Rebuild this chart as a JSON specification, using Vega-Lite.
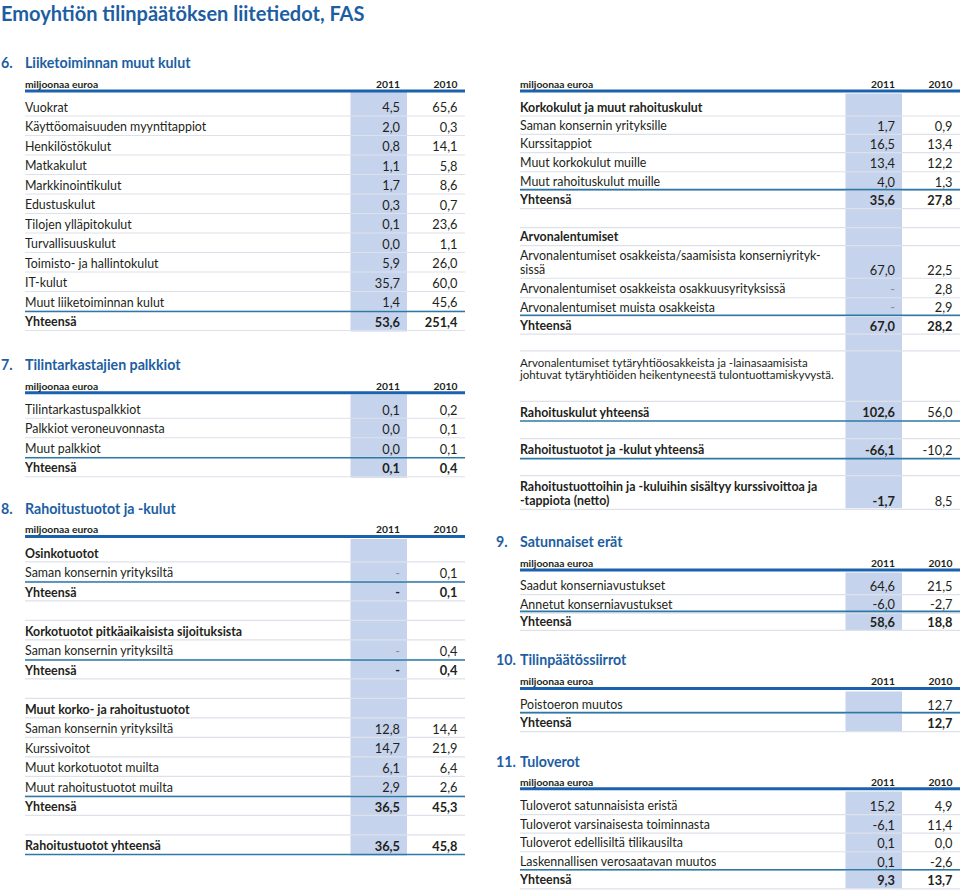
{
  "$schema": "https://vega.github.io/schema/vega-lite/v6.json",
  "padding": 0,
  "background": "white",
  "spacing": 28,
  "data": {"values": [
    {"p":"L","kind":"title","line":-4.79,"label":"Emoyhtiön tilinpäätöksen liitetiedot, FAS"},
    {"p":"L","kind":"heading","line":-2.29,"num":"6.","label":"Liiketoiminnan muut kulut"},
    {"p":"L","kind":"header","line":-1.19,"label":"miljoonaa euroa","h1":"2011","h2":"2010"},
    {"p":"L","kind":"band","line":-0.79,"line2":11.49},
    {"p":"L","kind":"item","line":0,"label":"Vuokrat","v2011":4.5,"v2010":65.6},
    {"p":"L","kind":"item","line":1,"label":"Käyttöomaisuuden myyntitappiot","v2011":2.0,"v2010":0.3},
    {"p":"L","kind":"item","line":2,"label":"Henkilöstökulut","v2011":0.8,"v2010":14.1},
    {"p":"L","kind":"item","line":3,"label":"Matkakulut","v2011":1.1,"v2010":5.8},
    {"p":"L","kind":"item","line":4,"label":"Markkinointikulut","v2011":1.7,"v2010":8.6},
    {"p":"L","kind":"item","line":5,"label":"Edustuskulut","v2011":0.3,"v2010":0.7},
    {"p":"L","kind":"item","line":6,"label":"Tilojen ylläpitokulut","v2011":0.1,"v2010":23.6},
    {"p":"L","kind":"item","line":7,"label":"Turvallisuuskulut","v2011":0.0,"v2010":1.1},
    {"p":"L","kind":"item","line":8,"label":"Toimisto- ja hallintokulut","v2011":5.9,"v2010":26.0},
    {"p":"L","kind":"item","line":9,"label":"IT-kulut","v2011":35.7,"v2010":60.0},
    {"p":"L","kind":"item","line":10,"label":"Muut liiketoiminnan kulut","v2011":1.4,"v2010":45.6},
    {"p":"L","kind":"total","line":11,"label":"Yhteensä","v2011":53.6,"v2010":251.4},

    {"p":"L","kind":"heading","line":13.21,"num":"7.","label":"Tilintarkastajien palkkiot"},
    {"p":"L","kind":"header","line":14.28,"label":"miljoonaa euroa","h1":"2011","h2":"2010"},
    {"p":"L","kind":"band","line":14.72,"line2":18.99},
    {"p":"L","kind":"item","line":15.5,"label":"Tilintarkastuspalkkiot","v2011":0.1,"v2010":0.2},
    {"p":"L","kind":"item","line":16.5,"label":"Palkkiot veroneuvonnasta","v2011":0.0,"v2010":0.1},
    {"p":"L","kind":"item","line":17.5,"label":"Muut palkkiot","v2011":0.0,"v2010":0.1},
    {"p":"L","kind":"total","line":18.5,"label":"Yhteensä","v2011":0.1,"v2010":0.4},

    {"p":"L","kind":"heading","line":20.59,"num":"8.","label":"Rahoitustuotot ja -kulut"},
    {"p":"L","kind":"header","line":21.65,"label":"miljoonaa euroa","h1":"2011","h2":"2010"},
    {"p":"L","kind":"band","line":22.13,"line2":38.36},
    {"p":"L","kind":"subhead","line":22.87,"label":"Osinkotuotot"},
    {"p":"L","kind":"item","line":23.87,"label":"Saman konsernin yrityksiltä","v2011":null,"v2010":0.1},
    {"p":"L","kind":"total","line":24.87,"label":"Yhteensä","v2011":null,"v2010":0.1},
    {"p":"L","kind":"blank","line":25.87},
    {"p":"L","kind":"subhead","line":26.87,"label":"Korkotuotot pitkäaikaisista sijoituksista"},
    {"p":"L","kind":"item","line":27.87,"label":"Saman konsernin yrityksiltä","v2011":null,"v2010":0.4},
    {"p":"L","kind":"total","line":28.87,"label":"Yhteensä","v2011":null,"v2010":0.4},
    {"p":"L","kind":"blank","line":29.87},
    {"p":"L","kind":"subhead","line":30.87,"label":"Muut korko- ja rahoitustuotot"},
    {"p":"L","kind":"item","line":31.87,"label":"Saman konsernin yrityksiltä","v2011":12.8,"v2010":14.4},
    {"p":"L","kind":"item","line":32.87,"label":"Kurssivoitot","v2011":14.7,"v2010":21.9},
    {"p":"L","kind":"item","line":33.87,"label":"Muut korkotuotot muilta","v2011":6.1,"v2010":6.4},
    {"p":"L","kind":"item","line":34.87,"label":"Muut rahoitustuotot muilta","v2011":2.9,"v2010":2.6},
    {"p":"L","kind":"total","line":35.87,"label":"Yhteensä","v2011":36.5,"v2010":45.3},
    {"p":"L","kind":"blank","line":36.87},
    {"p":"L","kind":"grandtotal","line":37.87,"label":"Rahoitustuotot yhteensä","v2011":36.5,"v2010":45.8},

    {"p":"R","kind":"header","line":-1.2,"label":"miljoonaa euroa","h1":"2011","h2":"2010"},
    {"p":"R","kind":"band","line":-0.72,"line2":20.55},
    {"p":"R","kind":"subhead","line":0,"label":"Korkokulut ja muut rahoituskulut"},
    {"p":"R","kind":"item","line":0.94,"label":"Saman konsernin yrityksille","v2011":1.7,"v2010":0.9},
    {"p":"R","kind":"item","line":1.88,"label":"Kurssitappiot","v2011":16.5,"v2010":13.4},
    {"p":"R","kind":"item","line":2.86,"label":"Muut korkokulut muille","v2011":13.4,"v2010":12.2},
    {"p":"R","kind":"item","line":3.81,"label":"Muut rahoituskulut muille","v2011":4.0,"v2010":1.3},
    {"p":"R","kind":"total","line":4.75,"label":"Yhteensä","v2011":35.6,"v2010":27.8},
    {"p":"R","kind":"blank","line":5.72},
    {"p":"R","kind":"subhead","line":6.65,"label":"Arvonalentumiset"},
    {"p":"R","kind":"item","line":8.32,"label":["Arvonalentumiset osakkeista/saamisista konserniyrityk-","sissä"],"v2011":67.0,"v2010":22.5},
    {"p":"R","kind":"item","line":9.32,"label":"Arvonalentumiset osakkeista osakkuusyrityksissä","v2011":null,"v2010":2.8},
    {"p":"R","kind":"item","line":10.26,"label":"Arvonalentumiset muista osakkeista","v2011":null,"v2010":2.9},
    {"p":"R","kind":"total","line":11.19,"label":"Yhteensä","v2011":67.0,"v2010":28.2},
    {"p":"R","kind":"blank","line":12.05},
    {"p":"R","kind":"note","line":13.69,"label":["Arvonalentumiset tytäryhtiöosakkeista ja -lainasaamisista","johtuvat tytäryhtiöiden heikentyneestä tulontuottamiskyvystä."]},
    {"p":"R","kind":"blank","line":14.63},
    {"p":"R","kind":"summary","line":15.64,"label":"Rahoituskulut yhteensä","v2011":102.6,"v2010":56.0},
    {"p":"R","kind":"blank","line":16.54},
    {"p":"R","kind":"summary","line":17.57,"label":"Rahoitustuotot ja -kulut yhteensä","v2011":-66.1,"v2010":-10.2},
    {"p":"R","kind":"blank","line":18.44},
    {"p":"R","kind":"summarynote","line":20.17,"label":["Rahoitustuottoihin ja -kuluihin sisältyy kurssivoittoa ja","-tappiota (netto)"],"v2011":-1.7,"v2010":8.5},

    {"p":"R","kind":"heading","line":22.27,"num":"9.","label":"Satunnaiset erät"},
    {"p":"R","kind":"header","line":23.37,"label":"miljoonaa euroa","h1":"2011","h2":"2010"},
    {"p":"R","kind":"band","line":23.85,"line2":26.85},
    {"p":"R","kind":"item","line":24.55,"label":"Saadut konserniavustukset","v2011":64.6,"v2010":21.5},
    {"p":"R","kind":"item","line":25.49,"label":"Annetut konserniavustukset","v2011":-6.0,"v2010":-2.7},
    {"p":"R","kind":"total","line":26.38,"label":"Yhteensä","v2011":58.6,"v2010":18.8},

    {"p":"R","kind":"heading","line":28.33,"num":"10.","label":"Tilinpäätössiirrot"},
    {"p":"R","kind":"header","line":29.45,"label":"miljoonaa euroa","h1":"2011","h2":"2010"},
    {"p":"R","kind":"band","line":29.95,"line2":32.01},
    {"p":"R","kind":"item","line":30.63,"label":"Poistoeron muutos","v2010":12.7},
    {"p":"R","kind":"total","line":31.57,"label":"Yhteensä","v2010":12.7},

    {"p":"R","kind":"heading","line":33.55,"num":"11.","label":"Tuloverot"},
    {"p":"R","kind":"header","line":34.59,"label":"miljoonaa euroa","h1":"2011","h2":"2010"},
    {"p":"R","kind":"band","line":35.08,"line2":40.05},
    {"p":"R","kind":"item","line":35.83,"label":"Tuloverot satunnaisista eristä","v2011":15.2,"v2010":4.9},
    {"p":"R","kind":"item","line":36.78,"label":"Tuloverot varsinaisesta toiminnasta","v2011":-6.1,"v2010":11.4},
    {"p":"R","kind":"item","line":37.73,"label":"Tuloverot edellisiltä tilikausilta","v2011":0.1,"v2010":0.0},
    {"p":"R","kind":"item","line":38.69,"label":"Laskennallisen verosaatavan muutos","v2011":0.1,"v2010":-2.6},
    {"p":"R","kind":"total","line":39.63,"label":"Yhteensä","v2011":9.3,"v2010":13.7}
  ]},
  "facet": {"column": {"field": "p", "type": "nominal", "sort": ["L", "R"], "header": {"title": null, "labels": false}}},
  "spec": {
    "width": 465,
    "height": 895,
    "layer": [
      {
        "transform": [{"filter": "datum.kind === 'band'"}],
        "mark": {"type": "rect", "color": "#c6d3ec"},
        "encoding": {
          "x": {"datum": 350.5, "type": "quantitative", "scale": {"domain": [0, 465], "nice": false, "zero": false}, "axis": null},
          "x2": {"datum": 407},
          "y": {"field": "line", "type": "quantitative", "scale": {"domain": [-5.513, 40.385], "reverse": true, "nice": false, "zero": false}, "axis": null},
          "y2": {"field": "line2"}
        }
      },
      {
        "transform": [{"filter": "indexof(['item','subhead','total','blank','summarynote'], datum.kind) >= 0"}],
        "mark": {"type": "rule", "color": "#dde2ea", "strokeWidth": 1.2, "yOffset": 8.5},
        "encoding": {"x": {"datum": 25}, "x2": {"datum": 465}, "y": {"field": "line", "type": "quantitative"}}
      },
      {
        "transform": [{"filter": "datum.kind === 'total'"}],
        "mark": {"type": "rule", "color": "#2e78a8", "strokeWidth": 1.6, "yOffset": -10.5},
        "encoding": {"x": {"datum": 25}, "x2": {"datum": 465}, "y": {"field": "line", "type": "quantitative"}}
      },
      {
        "transform": [{"filter": "datum.kind === 'grandtotal' || datum.kind === 'summary'"}],
        "mark": {"type": "rule", "color": "#2e78a8", "strokeWidth": 1.6, "yOffset": 8.5},
        "encoding": {"x": {"datum": 25}, "x2": {"datum": 465}, "y": {"field": "line", "type": "quantitative"}}
      },
      {
        "transform": [{"filter": "datum.kind === 'header'"}],
        "mark": {"type": "rule", "color": "#1b62ae", "strokeWidth": 3, "yOffset": 6.8},
        "encoding": {"x": {"datum": 25}, "x2": {"datum": 465}, "y": {"field": "line", "type": "quantitative"}}
      },
      {
        "transform": [{"filter": "datum.kind === 'title'"}],
        "mark": {"type": "text", "align": "left", "baseline": "middle", "dy": 1.2, "font": "Lato", "fontSize": 20, "fontWeight": "bold", "color": "#1d5ea3"},
        "encoding": {"x": {"datum": 1}, "y": {"field": "line", "type": "quantitative"}, "text": {"field": "label"}}
      },
      {
        "transform": [{"filter": "datum.kind === 'heading'"}],
        "mark": {"type": "text", "align": "left", "baseline": "middle", "dy": 1, "font": "Lato", "fontSize": 14.2, "fontWeight": "bold", "color": "#1d5ea3"},
        "encoding": {"x": {"datum": 1}, "y": {"field": "line", "type": "quantitative"}, "text": {"field": "num"}}
      },
      {
        "transform": [{"filter": "datum.kind === 'heading'"}],
        "mark": {"type": "text", "align": "left", "baseline": "middle", "dy": 1, "font": "Lato", "fontSize": 14.2, "fontWeight": "bold", "color": "#1d5ea3"},
        "encoding": {"x": {"datum": 25}, "y": {"field": "line", "type": "quantitative"}, "text": {"field": "label"}}
      },
      {
        "transform": [{"filter": "datum.kind === 'header'"}],
        "mark": {"type": "text", "align": "left", "baseline": "middle", "dy": 0.6, "font": "Lato", "fontSize": 10.3, "fontWeight": "bold", "color": "#231f20"},
        "encoding": {"x": {"datum": 25}, "y": {"field": "line", "type": "quantitative"}, "text": {"field": "label"}}
      },
      {
        "transform": [{"filter": "datum.kind === 'header'"}],
        "mark": {"type": "text", "align": "right", "baseline": "middle", "dy": 0.6, "font": "Lato", "fontSize": 10.3, "fontWeight": "bold", "color": "#231f20"},
        "encoding": {"x": {"datum": 400}, "y": {"field": "line", "type": "quantitative"}, "text": {"field": "h1"}}
      },
      {
        "transform": [{"filter": "datum.kind === 'header'"}],
        "mark": {"type": "text", "align": "right", "baseline": "middle", "dy": 0.6, "font": "Lato", "fontSize": 10.3, "fontWeight": "bold", "color": "#231f20"},
        "encoding": {"x": {"datum": 457.5}, "y": {"field": "line", "type": "quantitative"}, "text": {"field": "h2"}}
      },
      {
        "transform": [{"filter": "indexof(['item','subhead','total','grandtotal','summary','summarynote'], datum.kind) >= 0"}],
        "mark": {"type": "text", "align": "left", "baseline": "bottom", "lineHeight": 13.6, "font": "Lato", "fontSize": 12.4, "color": "#231f20",
          "dy": {"expr": "isArray(datum.label) ? 7.1 - 13.6 * (length(datum.label) - 1) : 7.1"},
          "fontWeight": {"expr": "datum.kind === 'item' ? 'normal' : 'bold'"}},
        "encoding": {"x": {"datum": 25}, "y": {"field": "line", "type": "quantitative"}, "text": {"field": "label"}}
      },
      {
        "transform": [{"filter": "datum.kind === 'note'"}],
        "mark": {"type": "text", "align": "left", "baseline": "bottom", "lineHeight": 12, "font": "Lato", "fontSize": 11.5, "color": "#231f20",
          "dy": {"expr": "isArray(datum.label) ? 6.6 - 12 * (length(datum.label) - 1) : 6.6"}},
        "encoding": {"x": {"datum": 25}, "y": {"field": "line", "type": "quantitative"}, "text": {"field": "label"}}
      },
      {
        "transform": [{"filter": "isValid(datum.v2011) || datum.v2011 === null"}],
        "mark": {"type": "text", "align": "right", "baseline": "middle", "dy": 0.8, "font": "Lato", "fontSize": 12.8,
          "fontWeight": {"expr": "datum.kind === 'item' ? 'normal' : 'bold'"}},
        "encoding": {
          "x": {"datum": 400},
          "y": {"field": "line", "type": "quantitative"},
          "text": {"condition": {"test": "datum.v2011 === null", "value": "-"}, "field": "v2011", "type": "quantitative", "format": ".1f"},
          "color": {"condition": {"test": "datum.v2011 === null && datum.kind === 'item'", "value": "#8c8c8c"}, "value": "#231f20"}
        }
      },
      {
        "transform": [{"filter": "isValid(datum.v2010) || datum.v2010 === null"}],
        "mark": {"type": "text", "align": "right", "baseline": "middle", "dy": 0.8, "font": "Lato", "fontSize": 12.8, "color": "#231f20",
          "fontWeight": {"expr": "datum.kind === 'total' || datum.kind === 'grandtotal' ? 'bold' : 'normal'"}},
        "encoding": {
          "x": {"datum": 457.5},
          "y": {"field": "line", "type": "quantitative"},
          "text": {"condition": {"test": "datum.v2010 === null", "value": "-"}, "field": "v2010", "type": "quantitative", "format": ".1f"}
        }
      }
    ]
  },
  "config": {
    "view": {"stroke": null},
    "axis": {"disable": true},
    "locale": {"number": {"decimal": ",", "thousands": " ", "grouping": [3], "currency": ["", " €"], "minus": "-"}}
  }
}
